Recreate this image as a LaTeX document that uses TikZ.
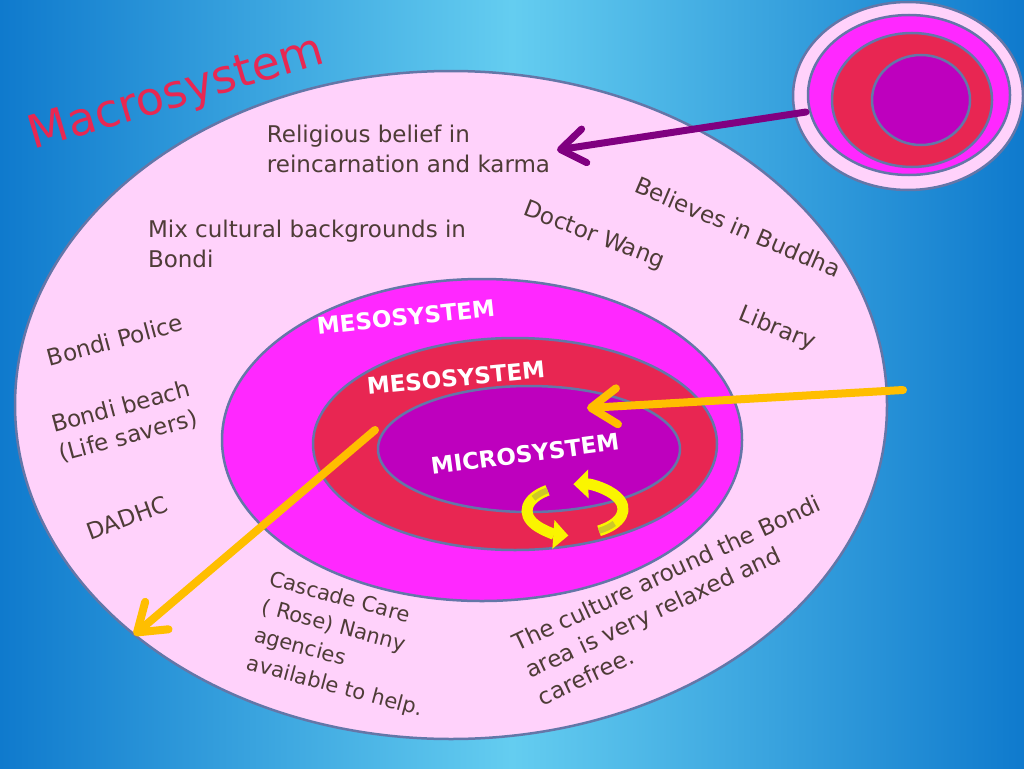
\documentclass[tikz,border=0pt]{standalone}
\usepackage{fontspec}
\setmainfont{DejaVu Sans}
\usetikzlibrary{arrows.meta}
\definecolor{bgdark}{RGB}{15,122,205}
\definecolor{bglight}{RGB}{100,205,240}
\definecolor{pale}{RGB}{255,210,251}
\definecolor{mag}{RGB}{255,40,255}
\definecolor{crim}{RGB}{232,38,82}
\definecolor{purp}{RGB}{190,0,190}
\definecolor{rim}{RGB}{100,118,168}
\definecolor{txt}{RGB}{78,60,55}
\definecolor{macroc}{RGB}{232,40,82}
\definecolor{orng}{RGB}{255,190,0}
\definecolor{parrow}{RGB}{128,0,128}
\definecolor{yel}{RGB}{250,245,0}
\definecolor{olivey}{RGB}{205,200,40}
\begin{document}
\begin{tikzpicture}[x=1pt,y=-1pt,
  ring/.style={draw=rim, line width=2.5pt},
  lbl/.style={text=txt, font=\fontsize{23}{30}\selectfont, inner sep=0pt, align=left},
  smalllbl/.style={text=txt, font=\fontsize{21}{29}\selectfont, inner sep=0pt, align=left},
  sys/.style={text=white, font=\fontsize{23}{28}\selectfont\bfseries, inner sep=0pt},
  orangearrow/.style={draw=orng, line width=8pt, line cap=round,
     -{Straight Barb[round, length=26pt, width=36pt]}},
  purplearrow/.style={draw=parrow, line width=7pt, line cap=round,
     -{Straight Barb[round, length=24pt, width=34pt]}},
  cyc/.style={draw=yel, line width=11pt, -{Triangle[length=15pt, width=28pt]}},
  cycback/.style={draw=olivey, line width=6pt}]
\useasboundingbox (0,0) rectangle (1024,768);
\shade[left color=bgdark, right color=bgdark, middle color=bglight] (0,0) rectangle (1024,768);

% main rings
\draw[ring, fill=pale] (451,405) ellipse [x radius=436pt, y radius=334pt];
\draw[ring, fill=mag] (482,440) ellipse [x radius=260pt, y radius=161pt];
\draw[ring, fill=crim] (515,444) ellipse [x radius=202pt, y radius=106pt];
\draw[ring, fill=purp] (529,449) ellipse [x radius=151pt, y radius=63pt];

% small system, top right
\draw[ring, fill=pale] (908,96) ellipse [x radius=115pt, y radius=94pt];
\draw[ring, fill=mag] (909,95) ellipse [x radius=101pt, y radius=80pt];
\draw[ring, fill=crim] (912,100) ellipse [x radius=80pt, y radius=67pt];
\draw[ring, fill=purp] (921,100) ellipse [x radius=49pt, y radius=45pt];

% title
\node[text=macroc, font=\fontsize{46}{50}\selectfont, inner sep=0pt, rotate=16.5] (macro) at (177,95) {Macrosystem};

% labels
\node[lbl] (relig) at (408.5,149) {Religious belief in\\reincarnation and karma};
\node[lbl] (mix) at (307,244) {Mix cultural backgrounds in\\Bondi};
\node[lbl, rotate=-23] (buddha) at (738,227) {Believes in Buddha};
\node[lbl, rotate=-21] (doctor) at (594,236) {Doctor Wang};
\node[lbl, rotate=-22] (library) at (777,329) {Library};
\node[lbl, rotate=15] (police) at (115,340) {Bondi Police};
\node[lbl, rotate=15] (beach) at (125,422) {Bondi beach\\(Life savers)};
\node[lbl, rotate=20] (dadhc) at (127,518) {DADHC};
\node[smalllbl, rotate=-15] (cascade) at (346,645) {Cascade Care\\( Rose) Nanny\\agencies\\available to help.};
\node[lbl, rotate=25] (culture) at (679,600) {The culture around the Bondi\\area is very relaxed and\\carefree.};

\node[sys, rotate=6] (meso1) at (406,317) {MESOSYSTEM};
\node[sys, rotate=5.5] (meso2) at (456,378) {MESOSYSTEM};
\node[sys, rotate=7.5] (micro) at (525,454) {MICROSYSTEM};

% arrows
\coordinate (o1s) at (903,390);
\coordinate (o1e) at (587,408);
\draw[orangearrow] (o1s) -- (o1e);
\coordinate (o2s) at (375,430);
\coordinate (o2e) at (134,635);
\draw[orangearrow] (o2s) -- (o2e);
\coordinate (ps) at (806,112);
\coordinate (pe) at (557,150);
\draw[purplearrow] (ps) -- (pe);

% cycle arrows
\coordinate (c1) at (547.5,490.3);
\coordinate (c2) at (599,530.8);
\draw[cyc] (c1) arc[start angle=125, end angle=262, x radius=48pt, y radius=25pt];
\draw[cyc] (c2) arc[start angle=-60, end angle=92, x radius=48pt, y radius=25pt];
\draw[cycback] (c1) arc[start angle=125, end angle=150, x radius=48pt, y radius=25pt];
\draw[cycback] (c2) arc[start angle=-60, end angle=-35, x radius=48pt, y radius=25pt];
\end{tikzpicture}
\end{document}
